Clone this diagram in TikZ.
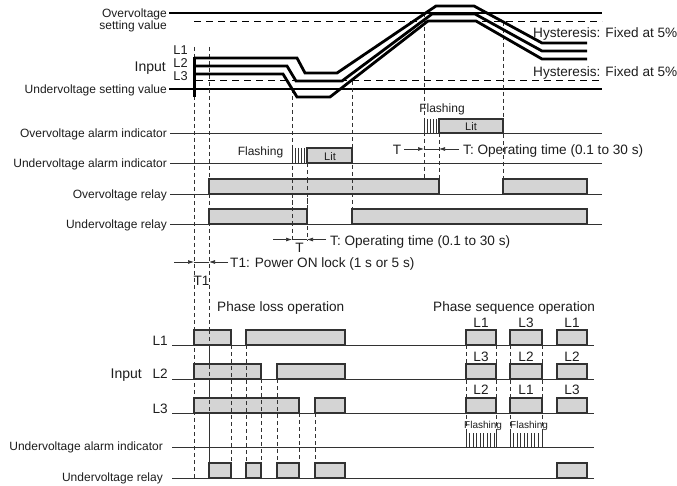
\documentclass[tikz,border=0pt]{standalone}
\usepackage{fontspec}
\setmainfont{Liberation Sans}
\usetikzlibrary{arrows.meta}
\definecolor{boxfill}{RGB}{212,212,212}
\definecolor{edge}{RGB}{50,50,50}
\definecolor{txt}{RGB}{30,30,30}
\tikzset{
  lbl/.style={font=\fontsize{12}{14}\selectfont, text=txt, inner sep=0pt, anchor=base east},
  ann/.style={font=\fontsize{13.6}{16}\selectfont, text=txt, inner sep=0pt, anchor=base west},
  annc/.style={font=\fontsize{13.6}{16}\selectfont, text=txt, inner sep=0pt, anchor=base},
  inl/.style={font=\fontsize{12.8}{14}\selectfont, text=txt, inner sep=0pt, anchor=base},
  big/.style={font=\fontsize{14}{16}\selectfont, text=txt, inner sep=0pt, anchor=base east},
  litlbl/.style={font=\fontsize{11}{13}\selectfont, text=txt, inner sep=0pt, anchor=base},
  flash/.style={font=\fontsize{12}{14}\selectfont, text=txt, inner sep=0pt, anchor=base},
  smallflash/.style={font=\fontsize{10}{12}\selectfont, text=txt, inner sep=0pt, anchor=base west},
  baseln/.style={draw=edge, line width=0.9pt},
  sig/.style={draw=edge, fill=boxfill, line width=1.2pt},
  vdash/.style={draw=edge, line width=0.7pt, dash pattern=on 4pt off 3pt},
  hdash/.style={draw=black, line width=1pt, dash pattern=on 7pt off 5pt},
  inp/.style={draw=black, line width=2.8pt},
  setl/.style={draw=black, line width=1.4pt},
  hatchln/.style={draw=edge, line width=0.7pt},
  tline/.style={draw=edge, line width=0.7pt},
  tarr/.style={draw=edge, line width=0.7pt, -{Latex[length=6pt,width=4pt]}},
}
\begin{document}
\begin{tikzpicture}[x=1pt,y=-1pt]
\useasboundingbox[fill=white] (0,0) rectangle (677,486);

% ---------- top: input voltage ----------
\draw[setl] (169,13) -- (602,13);
\draw[hdash] (194,22) -- (602,22);
\draw[hdash] (196,81) -- (602,81);
\draw[setl] (169,89) -- (602,89);

\node[lbl] (ovs1) at (167,17.5) {Overvoltage};
\node[lbl] (ovs2) at (167,29.5) {setting value};
\node[lbl] (uvs) at (167,93.5) {Undervoltage setting value};
\node[big] (inpt) at (166,72) {Input};
\node[inl] (l1t) at (180.5,54.5) {L1};
\node[inl] (l2t) at (180.5,67.2) {L2};
\node[inl] (l3t) at (180.5,80.5) {L3};

\node[ann] (hys1) at (533,37.5) {Hysteresis: Fixed at 5\%};
\node[ann] (hys2) at (533,77) {Hysteresis: Fixed at 5\%};

% ---------- dashed verticals (top / middle) ----------
\draw[vdash] (194,47) -- (194,479);
\draw[vdash] (209,47) -- (209,463);
\draw[vdash] (292,89) -- (292,241);
\draw[vdash] (307,163) -- (307,241);
\draw[vdash] (352,81) -- (352,209);
\draw[vdash] (424,13) -- (424,179);
\draw[vdash] (439,133) -- (439,179);
\draw[vdash] (503,22) -- (503,179);

% input lines
\draw[inp] (194,58) -- (297,58) -- (305,73) -- (337,73) -- (436,6) -- (474,6) -- (542,43) -- (587,43);
\draw[inp] (194,66) -- (287,66) -- (296,81) -- (342,81) -- (432,14) -- (475,14) -- (542,51) -- (587,51);
\draw[inp] (194,74) -- (283,74) -- (297,97) -- (330,97) -- (428,21) -- (476,21) -- (542,59) -- (587,59);
\draw[line width=2.8pt] (194.5,56.6) -- (194.5,97);

% ---------- middle: indicators and relays ----------
\foreach \yy in {133,163,194,224} \draw[baseln] (170,\yy) -- (602,\yy);
\node[lbl] (ovai) at (167,137.3) {Overvoltage alarm indicator};
\node[lbl] (uvai) at (167,167.3) {Undervoltage alarm indicator};
\node[lbl] (ovr) at (167,198.3) {Overvoltage relay};
\node[lbl] (uvr) at (167,228.3) {Undervoltage relay};

\draw[sig] (209,179) rectangle (439,194);
\draw[sig] (503,179) rectangle (587,194);
\draw[sig] (209,209) rectangle (307,224);
\draw[sig] (352,209) rectangle (587,224);
\draw[sig] (439,119) rectangle (503,133);
\draw[sig] (307,148) rectangle (352,163);
\foreach \xx in {424,427,430,433,436} \draw[hatchln] (\xx,119) -- (\xx,133);
\foreach \xx in {292,295,298,301,304} \draw[hatchln] (\xx,148) -- (\xx,163);
% dashed through relay boxes
\draw[vdash] (292,179) -- (292,224);
\draw[vdash] (307,179) -- (307,209);
\draw[vdash] (352,179) -- (352,194);
\draw[vdash] (209,194) -- (209,209);

\node[litlbl] (lit1) at (471,131) {Lit};
\node[litlbl] (lit2) at (330,160.5) {Lit};
\node[flash] (fl1) at (442,113) {Flashing};
\node[flash] (fl2) at (260.5,155.5) {Flashing};

% T arrows
\draw[tline] (424,149) -- (439,149);
\draw[tarr] (404,149) -- (424,149);
\draw[tarr] (459,149) -- (439,149);
\node[annc] (tup) at (397,154.5) {T};
\node[ann] (tupl) at (463,154.5) {T: Operating time (0.1 to 30 s)};

\draw[tline] (292,239.5) -- (307,239.5);
\draw[tarr] (273,239.5) -- (292,239.5);
\draw[tarr] (326,239.5) -- (307,239.5);
\node[ann] (tlol) at (330,245.5) {T: Operating time (0.1 to 30 s)};
\node[annc] (tlo) at (299.5,253) {T};

\draw[tline] (194,262) -- (209,262);
\draw[tarr] (174,262) -- (194,262);
\draw[tarr] (228,262) -- (209,262);
\node[ann] (t1l) at (230,267.5) {T1: Power ON lock (1 s or 5 s)};
\node[annc] (t1) at (201.5,286) {T1};

% ---------- bottom: phase loss / phase sequence ----------
\node[ann] (plo) at (217,311) {Phase loss operation};
\node[ann] (pso) at (433,311) {Phase sequence operation};

\foreach \yy in {345,379,413,447,478} \draw[baseln] (172,\yy) -- (594,\yy);
\node[annc, anchor=base east] (bl1) at (168,345) {L1};
\node[annc, anchor=base east] (bl2) at (168,378.5) {L2};
\node[annc, anchor=base east] (bl3) at (168,413) {L3};
\node[big] (binp) at (142,378.5) {Input};
\node[lbl] (buvai) at (163,450.5) {Undervoltage alarm indicator};
\node[lbl] (buvr) at (163,481.5) {Undervoltage relay};

% phase loss boxes
\draw[sig] (194,330) rectangle (231,345);
\draw[sig] (246,330) rectangle (345,345);
\draw[sig] (194,364) rectangle (261,379);
\draw[sig] (277,364) rectangle (345,379);
\draw[sig] (194,398) rectangle (299,413);
\draw[sig] (315,398) rectangle (345,413);
\draw[sig] (209,463) rectangle (231,478);
\draw[sig] (246,463) rectangle (261,478);
\draw[sig] (277,463) rectangle (299,478);
\draw[sig] (315,463) rectangle (345,478);

\draw[vdash] (209,330) -- (209,463);
\draw[vdash] (231,345) -- (231,463);
\draw[vdash] (246,345) -- (246,463);
\draw[vdash] (261,379) -- (261,463);
\draw[vdash] (277,379) -- (277,463);
\draw[vdash] (299,413) -- (299,463);
\draw[vdash] (315,413) -- (315,463);

% phase sequence boxes
\foreach \xa/\xb in {466/496,510/542,557/587} {
  \draw[sig] (\xa,330) rectangle (\xb,345);
  \draw[sig] (\xa,364) rectangle (\xb,379);
  \draw[sig] (\xa,398) rectangle (\xb,413);
}
\draw[sig] (557,463) rectangle (587,478);
\foreach \xx in {466,496,510,542} \draw[vdash] (\xx,345) -- (\xx,433);
\foreach \xx in {466,469.5,473,476.5,480,483.5,487,490.5,494,496} \draw[hatchln] (\xx,433) -- (\xx,447);
\foreach \xx in {510,513.5,517,520.5,524,527.5,531,534.5,538,542} \draw[hatchln] (\xx,433) -- (\xx,447);

\node[annc] (s11) at (481,327) {L1};
\node[annc] (s12) at (526,327) {L3};
\node[annc] (s13) at (572,327) {L1};
\node[annc] (s21) at (481,361) {L3};
\node[annc] (s22) at (526,361) {L2};
\node[annc] (s23) at (572,361) {L2};
\node[annc] (s31) at (481,394.5) {L2};
\node[annc] (s32) at (526,394.5) {L1};
\node[annc] (s33) at (572,394.5) {L3};
\node[smallflash] (sf1) at (464,428) {Flashing};
\node[smallflash] (sf2) at (510,428) {Flashing};
\end{tikzpicture}
\end{document}
